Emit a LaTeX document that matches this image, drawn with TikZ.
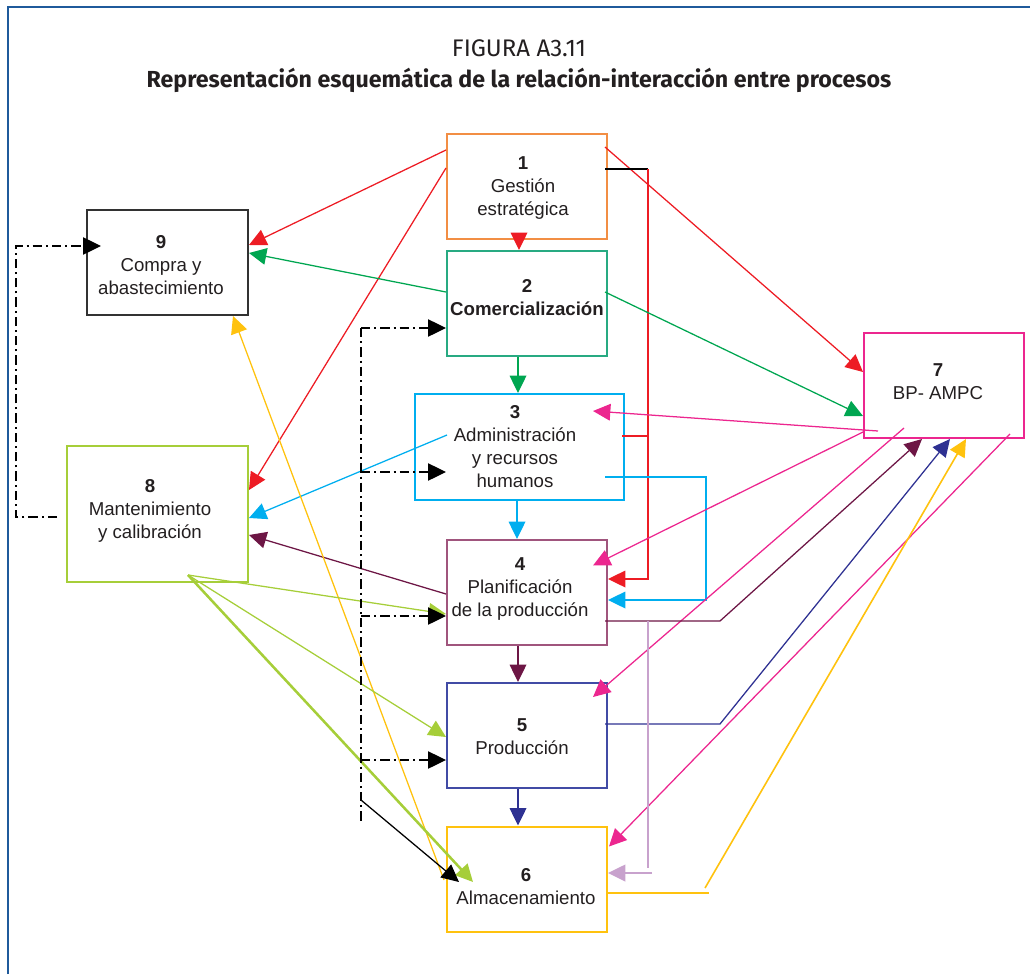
\documentclass[tikz,border=0pt]{standalone}
\usepackage{fontspec}
\setmainfont{Liberation Sans}
\newfontfamily\titlefont{Fira Sans}
\usetikzlibrary{arrows.meta,calc}

\definecolor{frameblue}{RGB}{31,90,155}
\definecolor{txt}{RGB}{35,31,32}
\definecolor{cOrange}{RGB}{242,142,68}
\definecolor{cTeal}{RGB}{40,170,130}
\definecolor{cCyan}{RGB}{0,174,239}
\definecolor{cMauve}{RGB}{160,85,125}
\definecolor{cNavy}{RGB}{46,49,146}
\definecolor{cNavyBox}{RGB}{65,75,165}
\definecolor{cYellow}{RGB}{255,194,14}
\definecolor{cMagenta}{RGB}{236,38,143}
\definecolor{cGray}{RGB}{50,50,50}
\definecolor{cLime}{RGB}{166,206,57}
\definecolor{cRed}{RGB}{237,28,36}
\definecolor{cGreen}{RGB}{0,166,81}
\definecolor{cMaroon}{RGB}{109,22,69}
\definecolor{cLilac}{RGB}{200,162,205}

\begin{document}
\begin{tikzpicture}[x=0.75pt,y=-0.75pt,
  procbox/.style={draw, line width=1.5pt, minimum width=120pt, minimum height=78.75pt, inner sep=0pt},
  lbl/.style={align=center, text=txt, inner sep=0pt, font=\fontsize{14}{17.25}\selectfont},
  conn/.style={line width=0.95pt},
  arr/.style={conn, -{Triangle[length=13pt,width=12.5pt]}},
  dashdot/.style={line width=0.95pt, dash pattern=on 7pt off 3pt on 1.5pt off 3pt},
  fbarr/.style={dashdot, black, -{Triangle[length=13.5pt,width=13pt]}}
]
\useasboundingbox (0,0) rectangle (1030,974);

% frame
\draw[frameblue, line width=1.6pt] (8,974) -- (8,7) -- (1030,7);

% title
\node[font=\titlefont\fontsize{18}{20}\selectfont, text=txt] (ttl1) at (519,48) {FIGURA A3.11};
\node[font=\titlefont\bfseries\fontsize{17.4}{20}\selectfont, text=txt] (ttl2) at (519,80)
  {Representación esquemática de la relación-interacción entre procesos};

% process boxes
\node[procbox, draw=cOrange] (b1) at (527,186.5) {};
\node[procbox, draw=cTeal] (b2) at (527,303.5) {};
\node[procbox, draw=cCyan, minimum width=156.75pt, minimum height=79.5pt] (b3) at (519.5,447) {};
\node[procbox, draw=cMauve] (b4) at (527,592.5) {};
\node[procbox, draw=cNavyBox] (b5) at (527,735.5) {};
\node[procbox, draw=cYellow] (b6) at (527,879) {};
\node[procbox, draw=cMagenta] (b7) at (944,385.5) {};
\node[procbox, draw=cLime, minimum width=135.75pt, minimum height=102pt] (b8) at (157.5,514) {};
\node[procbox, draw=cGray, minimum width=120.75pt] (b9) at (167.5,262.5) {};

% box labels
\node[lbl] (t1) at (523,188) {\textbf{1}\\Gestión\\estratégica};
\node[lbl] (t2) at (527,298) {\textbf{2}\\\textbf{Comercialización}};
\node[lbl] (t3) at (515,447) {\textbf{3}\\Administración\\y recursos\\humanos};
\node[lbl] (t4) at (520,589) {\textbf{4}\\Planificación\\de la producción};
\node[lbl] (t5) at (522,737) {\textbf{5}\\Producción};
\node[lbl] (t6) at (526,887) {\textbf{6}\\Almacenamiento};
\node[lbl] (t7) at (938,382) {\textbf{7}\\BP- AMPC};
\node[lbl] (t8) at (150,511) {\textbf{8}\\Mantenimiento\\y calibración};
\node[lbl] (t9) at (161,265) {\textbf{9}\\Compra y\\abastecimiento};

% helper points
\coordinate (g8) at ($(b8.south)+(30.5,-8)$);
\coordinate (kt) at (361,328);
\coordinate (kb) at (361,822);
\coordinate (rbar) at (648,169);

% red: Gestion estrategica
\draw[arr, cRed] (b1.west |- 0,150) -- (b9.east |- 0,245);
\draw[arr, cRed] (b1.west |- 0,168) -- (b8.east |- 0,490);
\draw[arr, cRed] ($(b1.north east)+(-3,14)$) -- (b7.west |- 0,372);
\draw[arr, cRed] (b1.south -| 519,0) -- (b2.north -| 519,0);
\draw[conn, black] ($(b1.east)+(-3,-17.5)$) -- (rbar);
\draw[arr, cRed] (rbar) -- (648,579) -- (b4.east |- 0,579);
\draw[conn, cRed] ($(b3.east)+(-3,-11)$) -- (648,436);

% green: Comercializacion
\draw[arr, cGreen] (b2.west |- 0,292) -- (b9.east |- 0,253);
\draw[arr, cGreen] ($(b2.east)+(-3,-11.5)$) -- (b7.west |- 0,416);
\draw[arr, cGreen] (b2.south -| 518,0) -- (b3.north -| 518,0);

% cyan: Administracion
\draw[arr, cCyan] ($(b3.west)+(33,-12)$) -- (b8.east |- 0,518);
\draw[arr, cCyan] (b3.south -| 517,0) -- (b4.north -| 517,0);
\draw[arr, cCyan] ($(b3.east)+(-20,30)$) -| (706,600) -- (b4.east |- 0,600);

% magenta: BP- AMPC
\draw[arr, cMagenta] ($(b7.south west)+(15,-8)$) -- ($(b3.east)+(-32,-36)$);
\draw[arr, cMagenta] (b7.west |- 0,432) -- ($(b4.east)+(-15,-27)$);
\draw[arr, cMagenta] ($(b7.south west)+(41,-11)$) -- ($(b5.north east)+(-15,15)$);
\draw[arr, cMagenta] ($(b7.south east)+(-15,-5)$) -- ($(b6.north east)+(1,21)$);

% maroon: Planificacion
\draw[arr, cMaroon] (b4.west |- 0,594) -- (b8.east |- 0,535);
\draw[arr, cMaroon] (b4.south -| 518,0) -- (b5.north -| 518,0);
\draw[arr, cMaroon] ($(b4.east)+(-3,28.5)$) -- (720,621) -- (b7.south -| 922,0);

% navy: Produccion
\draw[arr, cNavy] (b5.south -| 518,0) -- (b6.north -| 518,0);
\draw[arr, cNavy] ($(b5.east)+(-3,-11.5)$) -- (720,724) -- (b7.south -| 950,0);

% yellow: Almacenamiento
\draw[conn, cYellow, line width=1.2pt] ($(b6.east)+(0,14)$) -- (709,893);
\draw[arr, cYellow, line width=1.2pt] (705,888) -- (b7.south -| 966,0);
\draw[arr, cYellow] ($(b6.west)+(-2,1)$) -- (b9.south -| 233,0);

% lime: Mantenimiento
\draw[arr, cLime] (g8) -- (b4.west |- 0,614);
\draw[arr, cLime] (g8) -- (b5.west |- 0,737);
\draw[arr, cLime, line width=1.9pt] (g8) -- ($(b6.west)+(27,3)$);

% black dash-dot feedback lines
\draw[fbarr] ($(b8.west)+(-9,3)$) -| (16,246) -- ($(b9.west)+(15,-16.5)$);
\draw[dashdot] (kt) -- (kb);
\draw[fbarr] (kt) -- (b2.west |- 0,328);
\draw[fbarr] (361,472) -- ($(b3.west)+(32,25)$);
\draw[fbarr] (361,616) -- (b4.west |- 0,616);
\draw[fbarr] (361,760) -- (b5.west |- 0,760);
\draw[arr, black] (361,800) -- ($(b6.west)+(13,3)$);

% lilac: Planificacion to Almacenamiento
\draw[conn, cLilac, line width=1.2pt] (648,621) -- (648,868);
\draw[arr, cLilac, line width=1.2pt] (652,873) -- (b6.east |- 0,873);
\end{tikzpicture}
\end{document}
